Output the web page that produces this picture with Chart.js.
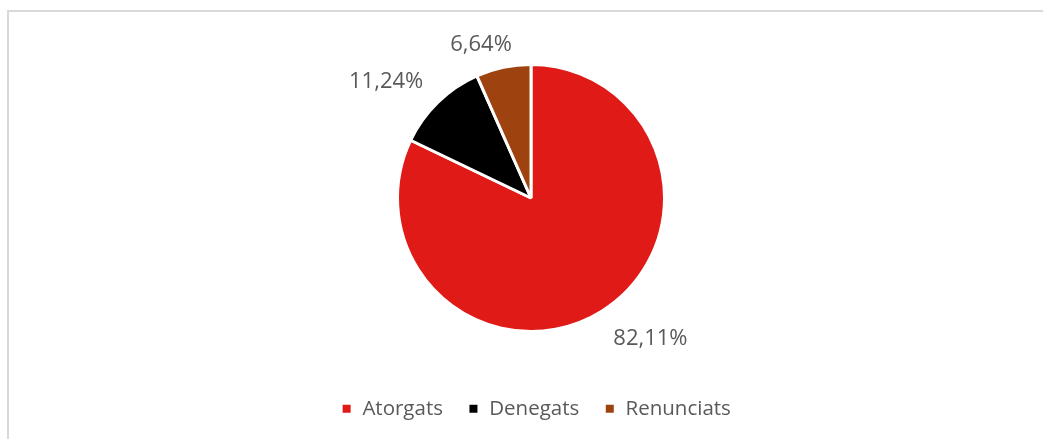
<!DOCTYPE html>
<html lang="ca">
<head>
  <meta charset="UTF-8">
  <title>Sol·licituds</title>
  <script src="https://cdn.jsdelivr.net/npm/chart.js"></script>
  <style>
    html, body { margin: 0; padding: 0; overflow: hidden; background: #fff; }
    #frame { position: absolute; left: 7px; top: 10px; width: 1200px; height: 600px;
             border-top: 2px solid #d9d9d9; border-left: 2px solid #d9d9d9; }
    #chart { position: absolute; left: 0; top: 0; }
  </style>
</head>
<body>
<div id="frame"></div>
<canvas id="chart" width="1043" height="431"></canvas>

<script>
  // dades
  const categories = ['Atorgats', 'Denegats', 'Renunciats'];
  const percentages = [82.11, 11.24, 6.64];
  const colors = ['#e01a17', '#000000', '#9e4210'];

  // posició de les etiquetes (factor del radi + petit desplaçament)
  const labelRadius = 1.3;
  const labelNudge = [[27, -6], [-24, 8], [-14, 17]];

  const pieLabels = {
    id: 'pieLabels',
    afterDatasetsDraw(chart) {
      const ctx = chart.ctx;
      const meta = chart.getDatasetMeta(0);
      ctx.save();
      ctx.font = '22px "Open Sans"';
      ctx.fillStyle = '#595959';
      ctx.textAlign = 'center';
      ctx.textBaseline = 'middle';
      meta.data.forEach((arc, i) => {
        const p = arc.getProps(['x', 'y', 'startAngle', 'endAngle', 'outerRadius'], true);
        const mid = (p.startAngle + p.endAngle) / 2;
        const r = p.outerRadius * labelRadius;
        const x = p.x + Math.cos(mid) * r + labelNudge[i][0];
        const y = p.y + Math.sin(mid) * r + labelNudge[i][1];
        const txt = percentages[i].toFixed(2).replace('.', ',') + '%';
        ctx.fillText(txt, x, y);
      });
      ctx.restore();
    }
  };

  // la llegenda de l'original està una mica desplaçada (dreta i amunt)
  const legendShift = {
    id: 'legendShift',
    afterLayout(chart) {
      if (chart.legend) {
        chart.legend.left += 5;
        chart.legend.right += 5;
        chart.legend.top -= 2;
        chart.legend.bottom -= 2;
      }
    }
  };

  const chart = new Chart(document.getElementById('chart'), {
    type: 'pie',
    data: {
      labels: categories,
      datasets: [{
        data: percentages,
        backgroundColor: colors,
        borderColor: '#ffffff',
        borderWidth: 3
      }]
    },
    options: {
      responsive: false,
      animation: false,
      devicePixelRatio: 1,
      layout: { padding: { top: 63, left: 19, right: 0, bottom: 0 } },
      plugins: {
        tooltip: { enabled: false },
        title: {
          display: true,
          text: '',
          position: 'bottom',
          weight: 500,
          font: { size: 1, lineHeight: 1 },
          padding: { top: 41.5, bottom: 0 }
        },
        legend: {
          position: 'bottom',
          labels: {
            boxWidth: 11,
            boxHeight: 11,
            padding: 25,
            color: '#595959',
            font: { family: '"Open Sans"', size: 20.5 }
          }
        }
      }
    },
    plugins: [pieLabels, legendShift]
  });
</script>
</body>
</html>
